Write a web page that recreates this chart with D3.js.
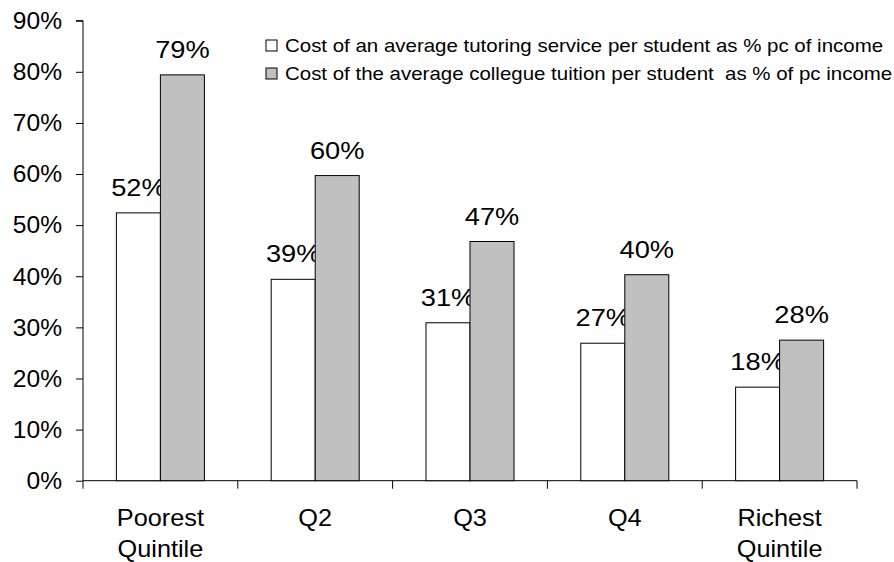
<!DOCTYPE html>
<html><head><meta charset="utf-8">
<script src="https://cdn.jsdelivr.net/npm/d3@7/dist/d3.min.js"></script>
<style>body{margin:0;background:#fff}svg{display:block}text{font-family:"Liberation Sans",Arial,sans-serif;fill:#000}</style>
</head><body><svg id="c" width="894" height="562"></svg>
<script>
const categories = [["Poorest","Quintile"],["Q2"],["Q3"],["Q4"],["Richest","Quintile"]];
const tutoring = [0.524, 0.394, 0.309, 0.269, 0.183];
const college = [0.794, 0.597, 0.468, 0.403, 0.275];
const seriesNames = ["Cost of an average tutoring service per student as % pc of income",
                     "Cost of the average collegue tuition per student  as % of pc income"];
const seriesColors = ["#ffffff", "#c0c0c0"];
const yTicks = [0,0.1,0.2,0.3,0.4,0.5,0.6,0.7,0.8,0.9];

(function(){
const svg = d3.select("#c");
const mLeft = 83, mRight = 857, mTop = 20.7, mBottom = 480.7;
const keys = categories.map((c,i)=>i);
const pad = 0.4315;
const x = d3.scaleBand().domain(keys).range([mLeft,mRight]).paddingInner(pad).paddingOuter(pad/2);
const xs = d3.scaleBand().domain([0,1]).range([0,x.bandwidth()]);
const y = d3.scaleLinear().domain([0,0.9]).range([mBottom, mTop]);
const series = [tutoring, college];

// text with horizontal stretch
function stext(parent, tx, ty, sx, size, anchor, str){
  return parent.append("text").attr("transform",`translate(${tx},${ty}) scale(${sx},1)`)
    .attr("text-anchor",anchor).style("font-size",size+"px").style("white-space","pre").text(str);
}

// y axis
const yAxis = d3.axisLeft(y).tickValues(yTicks).tickSize(7).tickFormat("");
const ga = svg.append("g").attr("transform",`translate(${mLeft},0)`).call(yAxis);
ga.select(".domain").attr("stroke","#000").attr("d",`M-7,${mTop}H0V${mBottom}`);
ga.selectAll(".tick line").attr("stroke","#000");
const fmt = d3.format(".0%");
yTicks.forEach(t=>stext(svg, 62, y(t)+8.3, 1.07, 23, "end", fmt(t)));

// x baseline and boundary ticks
svg.append("line").attr("x1",mLeft).attr("x2",mRight).attr("y1",mBottom).attr("y2",mBottom).attr("stroke","#000");
const step = x.step();
d3.range(categories.length+1).forEach(i=>{
  const bx = mLeft + i*step;
  svg.append("line").attr("x1",bx).attr("x2",bx).attr("y1",mBottom).attr("y2",mBottom+8).attr("stroke","#000");
});

// bars + labels
series.forEach((vals,si)=>{
  svg.append("g").selectAll("rect").data(vals).join("rect")
    .attr("x",(d,i)=>x(i)+xs(si)).attr("width",xs.bandwidth())
    .attr("y",d=>y(d)).attr("height",d=>mBottom-y(d))
    .attr("fill",seriesColors[si]).attr("stroke","#000").attr("stroke-width",1);
  const lg = svg.append("g");
  vals.forEach((d,i)=>stext(lg, x(i)+xs(si)+xs.bandwidth()/2, y(d)-17, 1.16, 23.5, "middle", Math.round(d*100)+"%"));
});

// category labels
const cl = svg.append("g");
categories.forEach((lines,i)=>{
  lines.forEach((ln,j)=>stext(cl, x(i)+x.bandwidth()/2, 526 + j*31, 1.1, 23, "middle", ln));
});

// legend
const lg = svg.append("g");
seriesNames.forEach((n,i)=>{
  const cy = 45.5 + i*28;
  lg.append("rect").attr("x",266).attr("y",cy-5.5).attr("width",11).attr("height",11)
    .attr("fill",seriesColors[i]).attr("stroke","#000");
  stext(lg, 285, cy+6.7, 1.1, 18.6, "start", n);
});
})();
</script></body></html>
